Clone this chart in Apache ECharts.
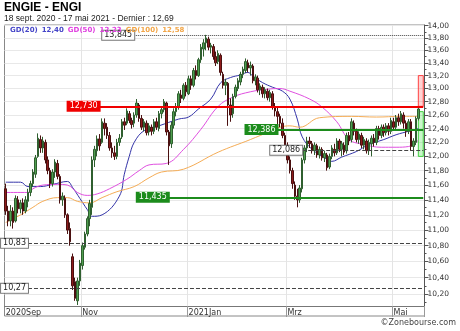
<!DOCTYPE html>
<html>
<head>
<meta charset="utf-8">
<script src="https://cdn.jsdelivr.net/npm/echarts@6/dist/echarts.min.js"></script>
<style>
  html, body { margin: 0; padding: 0; background: #fff; }
  #first { width: 460px; height: 331px; }
</style>
</head>
<body>
<div id="first"></div>
<script>
// daily candles, [open, close, low, high], 18 Sep 2020 .. 17 May 2021
var candles = [
  [11.55, 11.25, 11.20, 11.62], [11.25, 11.12, 11.05, 11.32], [11.12, 11.25, 11.05, 11.33], [11.25, 11.10, 11.02, 11.30],
  [11.12, 11.42, 11.10, 11.46], [11.40, 11.28, 11.22, 11.45], [11.28, 11.36, 11.22, 11.40], [11.36, 11.25, 11.20, 11.42],
  [11.25, 11.40, 11.22, 11.45], [11.38, 11.50, 11.30, 11.55], [11.50, 11.62, 11.45, 11.66], [11.62, 11.78, 11.58, 11.82],
  [11.75, 11.98, 11.70, 12.02], [12.00, 12.26, 11.98, 12.33], [12.24, 12.12, 12.05, 12.30], [12.12, 12.22, 12.05, 12.28],
  [12.20, 11.95, 11.90, 12.24], [11.95, 11.80, 11.75, 12.00], [11.80, 11.62, 11.56, 11.84], [11.62, 11.78, 11.58, 11.82],
  [11.78, 11.92, 11.70, 11.96], [11.90, 11.72, 11.68, 11.95], [11.72, 11.40, 11.35, 11.75], [11.40, 11.45, 11.32, 11.50],
  [11.42, 11.20, 11.16, 11.46], [11.20, 11.00, 10.95, 11.22], [11.02, 10.85, 10.80, 11.10], [10.66, 10.30, 10.25, 10.70],
  [10.35, 10.15, 10.12, 10.40], [10.12, 10.36, 10.07, 10.40], [10.36, 10.58, 10.30, 10.62], [10.55, 10.80, 10.50, 10.84],
  [10.78, 10.95, 10.75, 10.98], [10.95, 11.15, 10.92, 11.18], [11.15, 11.35, 11.05, 11.40], [11.30, 11.95, 11.20, 12.00],
  [11.95, 12.10, 11.85, 12.15], [12.08, 12.25, 12.00, 12.30], [12.25, 12.15, 12.08, 12.32], [12.20, 12.50, 12.18, 12.55],
  [12.48, 12.40, 12.30, 12.55], [12.42, 12.30, 12.25, 12.48], [12.30, 12.12, 12.08, 12.35], [12.12, 12.05, 11.98, 12.20],
  [12.05, 12.00, 11.95, 12.15], [12.00, 12.20, 11.96, 12.25], [12.20, 12.26, 12.15, 12.32], [12.28, 12.50, 12.25, 12.54],
  [12.50, 12.45, 12.38, 12.56], [12.48, 12.66, 12.45, 12.70], [12.62, 12.52, 12.48, 12.66], [12.52, 12.46, 12.40, 12.56],
  [12.48, 12.60, 12.42, 12.64], [12.60, 12.78, 12.56, 12.84], [12.75, 12.55, 12.50, 12.78], [12.55, 12.42, 12.38, 12.60],
  [12.42, 12.50, 12.36, 12.54], [12.48, 12.34, 12.30, 12.52], [12.35, 12.44, 12.30, 12.48], [12.42, 12.36, 12.30, 12.46],
  [12.36, 12.50, 12.32, 12.54], [12.50, 12.42, 12.38, 12.56], [12.40, 12.62, 12.36, 12.66], [12.62, 12.68, 12.55, 12.72],
  [12.68, 12.80, 12.64, 12.84], [12.78, 12.35, 12.30, 12.80], [12.35, 12.15, 11.88, 12.38], [12.18, 12.45, 12.12, 12.50],
  [12.45, 12.65, 12.40, 12.70], [12.65, 12.72, 12.58, 12.78], [12.72, 12.92, 12.68, 12.96], [12.90, 12.85, 12.78, 12.98],
  [12.85, 13.05, 12.82, 13.08], [13.05, 12.95, 12.88, 13.10], [12.92, 13.15, 12.90, 13.20], [13.15, 13.05, 12.98, 13.20],
  [13.05, 13.28, 13.02, 13.32], [13.28, 13.20, 13.14, 13.36], [13.20, 13.45, 13.18, 13.48], [13.45, 13.65, 13.40, 13.70],
  [13.62, 13.72, 13.50, 13.78], [13.72, 13.80, 13.60, 13.85], [13.78, 13.65, 13.60, 13.82], [13.65, 13.68, 13.55, 13.72],
  [13.66, 13.50, 13.45, 13.70], [13.50, 13.40, 13.35, 13.58], [13.42, 13.55, 13.38, 13.60], [13.52, 13.25, 13.20, 13.55],
  [13.22, 13.05, 13.00, 13.26], [13.05, 13.10, 12.90, 13.15], [13.08, 12.75, 12.44, 13.10], [12.75, 12.60, 12.50, 12.85],
  [12.62, 12.88, 12.56, 12.92], [12.88, 13.02, 12.85, 13.06], [13.00, 13.12, 12.96, 13.16], [13.10, 13.22, 13.05, 13.26],
  [13.22, 13.30, 13.16, 13.34], [13.28, 13.42, 13.24, 13.47], [13.40, 13.32, 13.25, 13.45], [13.32, 13.36, 13.20, 13.42],
  [13.35, 13.12, 13.08, 13.38], [13.12, 13.18, 13.05, 13.22], [13.16, 12.98, 12.94, 13.20], [12.98, 13.04, 12.90, 13.08],
  [13.02, 12.92, 12.86, 13.06], [12.92, 12.98, 12.85, 13.02], [12.96, 12.86, 12.82, 13.00], [12.86, 12.94, 12.80, 12.98],
  [12.92, 12.72, 12.68, 12.96], [12.72, 12.66, 12.58, 12.78], [12.65, 12.58, 12.40, 12.72], [12.58, 12.48, 12.42, 12.62],
  [12.48, 12.30, 12.26, 12.55], [12.30, 12.16, 12.10, 12.34], [12.16, 11.95, 11.90, 12.20], [11.95, 11.80, 11.76, 12.00],
  [11.80, 11.62, 11.55, 11.84], [11.60, 11.45, 11.40, 11.65], [11.45, 11.40, 11.30, 11.55], [11.40, 11.56, 11.36, 11.60],
  [11.55, 11.95, 11.50, 11.98], [11.95, 12.12, 11.90, 12.16], [12.12, 12.22, 12.06, 12.28], [12.22, 12.18, 12.12, 12.28],
  [12.18, 12.08, 12.04, 12.22], [12.08, 12.16, 12.02, 12.20], [12.15, 12.02, 11.98, 12.18], [12.02, 12.10, 11.97, 12.14],
  [12.10, 11.98, 11.94, 12.13], [11.98, 12.04, 11.92, 12.08], [12.02, 11.84, 11.80, 12.05], [11.85, 12.00, 11.82, 12.04],
  [12.00, 12.12, 11.96, 12.16], [12.10, 12.05, 12.00, 12.18], [12.05, 12.22, 12.02, 12.26], [12.22, 12.10, 12.06, 12.25],
  [12.10, 12.18, 12.00, 12.22], [12.16, 12.06, 12.02, 12.20], [12.08, 12.30, 12.04, 12.34], [12.30, 12.22, 12.16, 12.35],
  [12.24, 12.50, 12.20, 12.55], [12.48, 12.36, 12.30, 12.52], [12.36, 12.24, 12.20, 12.40], [12.24, 12.32, 12.18, 12.36],
  [12.30, 12.16, 12.12, 12.34], [12.16, 12.24, 12.10, 12.28], [12.22, 12.08, 12.04, 12.26], [12.08, 12.20, 12.02, 12.24],
  [12.18, 12.26, 12.00, 12.30], [12.26, 12.20, 12.14, 12.32], [12.20, 12.40, 12.16, 12.44], [12.40, 12.30, 12.24, 12.44],
  [12.30, 12.42, 12.26, 12.46], [12.42, 12.34, 12.28, 12.46], [12.34, 12.44, 12.30, 12.48], [12.44, 12.36, 12.30, 12.48],
  [12.36, 12.52, 12.32, 12.56], [12.50, 12.42, 12.38, 12.56], [12.42, 12.56, 12.38, 12.60], [12.56, 12.50, 12.44, 12.62],
  [12.50, 12.62, 12.46, 12.66], [12.60, 12.48, 12.40, 12.64], [12.48, 12.36, 12.28, 12.52], [12.36, 12.50, 12.32, 12.54],
  [12.50, 12.14, 12.08, 12.54], [12.14, 12.22, 12.00, 12.26], [12.20, 12.55, 12.16, 12.58], [12.55, 12.69, 12.52, 12.72]
];

// moving averages, [day index, value]
var ma20 = [[0, 11.64], [6, 11.64], [9, 11.58], [14, 11.58], [19, 11.61], [25, 11.65], [27, 11.57], [30, 11.42],
  [33, 11.27], [35, 11.18], [39, 11.20], [46, 11.45], [48, 11.75], [50, 12.00], [52, 12.20], [56, 12.37], [62, 12.44],
  [70, 12.54], [74, 12.57], [78, 12.69], [83, 12.84], [87, 13.09], [91, 13.17], [95, 13.21], [98, 13.25], [100, 13.19],
  [104, 13.09], [108, 13.02], [112, 12.96], [115, 12.84], [118, 12.54], [120, 12.28], [124, 12.10], [130, 11.96],
  [132, 11.93], [136, 11.99], [142, 12.07], [147, 12.17], [153, 12.24], [158, 12.31], [163, 12.36], [167, 12.40]];
var ma50 = [[0, 11.50], [9, 11.50], [11, 11.55], [15, 11.60], [21, 11.61], [25, 11.60], [29, 11.50], [33, 11.46],
  [37, 11.48], [42, 11.55], [49, 11.68], [54, 11.80], [58, 11.88], [65, 11.90], [72, 12.10], [79, 12.39], [86, 12.73],
  [92, 12.87], [99, 12.95], [106, 12.99], [111, 13.00], [115, 12.96], [123, 12.84], [128, 12.72], [134, 12.50],
  [139, 12.24], [145, 12.17], [152, 12.13], [158, 12.13], [163, 12.14], [167, 12.23]];
var ma100 = [[0, 11.10], [6, 11.20], [11, 11.30], [15, 11.38], [21, 11.43], [25, 11.43], [29, 11.38], [34, 11.36],
  [39, 11.43], [45, 11.51], [52, 11.58], [58, 11.70], [63, 11.78], [72, 11.82], [86, 12.06], [99, 12.24], [107, 12.36],
  [111, 12.42], [115, 12.44], [119, 12.42], [127, 12.56], [140, 12.58], [150, 12.57], [160, 12.58], [167, 12.58]];

// horizontal levels
var levels = [13.845, 12.730, 12.386, 12.086, 11.435, 10.83, 10.27];
var levelDecimals = [3, 3, 3, 3, 3, 2, 2];
var zoneHigh = [13.20, 12.73];
var zoneLow = [12.65, 12.00];

var yTicks = [10.2, 10.4, 10.6, 10.8, 11.0, 11.2, 11.4, 11.6, 11.8, 12.0, 12.2, 12.4, 12.6, 12.8, 13.0, 13.2, 13.4, 13.6, 13.8, 14.0];
var yMinor = [10.1, 10.3, 10.5, 10.7, 10.9, 11.1, 11.3, 11.5, 11.7, 11.9, 12.1, 12.3, 12.5, 12.7, 12.9, 13.1, 13.3, 13.5, 13.7, 13.9];
var monthNames = {10: 'Nov', 0: 'Jan', 2: 'Mrz', 4: 'Mai'};

// trading days (Euronext shut on weekends and these days)
var holidays = ['2020-12-25', '2021-01-01', '2021-04-02', '2021-04-05'];
var dates = [];
var day = new Date(Date.UTC(2020, 8, 18));
while (dates.length < candles.length) {
    var s = day.toISOString().slice(0, 10);
    var wd = day.getUTCDay();
    if (wd != 0 && wd != 6 && holidays.indexOf(s) < 0) dates.push(s);
    day.setUTCDate(day.getUTCDate() + 1);
}
var cats = dates.concat(['', '']);

var labelAt = {0: '2020Sep'};
for (var i = 1; i < dates.length; i++) {
    var m = +dates[i].slice(5, 7) - 1;
    if (m != +dates[i - 1].slice(5, 7) - 1 && monthNames[m] != null) {
        labelAt[i] = (m == 0 ? dates[i].slice(0, 4) : '') + monthNames[m];
    }
}
function isLabel(i) { return labelAt[i] != null; }
function isGrid(i) { return i > 0 && labelAt[i] != null; }

var LN = Math.log;
function fmt(v, n) { return v.toFixed(n).replace('.', ','); }

var lastIdx = cats.length - 1;
var levelStyle = [
    {start: 52, line: {color: '#444', type: 'dotted', width: 1}, bg: '#fff', fg: '#222', border: '#777'},
    {start: 38, line: {color: '#f00000', type: 'solid', width: 2}, bg: '#f00000', fg: '#fff', border: '#f00000'},
    {start: 110, line: {color: '#1c8c1c', type: 'solid', width: 2}, bg: '#1c8c1c', fg: '#fff', border: '#1c8c1c'},
    {start: 120, line: {color: '#444', type: 'dashed', width: 1}, bg: '#fff', fg: '#222', border: '#777'},
    {start: 66, line: {color: '#1c8c1c', type: 'solid', width: 2}, bg: '#1c8c1c', fg: '#fff', border: '#1c8c1c'},
    {start: 9, line: {color: '#444', type: 'dashed', width: 1}, bg: '#fff', fg: '#222', border: '#777'},
    {start: 9, line: {color: '#444', type: 'dashed', width: 1}, bg: '#fff', fg: '#222', border: '#777'}
];
var markLines = levels.map(function (v, k) {
    var st = levelStyle[k];
    return [{
        coord: [st.start, LN(v)],
        lineStyle: st.line,
        label: {
            show: true, position: 'start', distance: 0,
            formatter: fmt(v, levelDecimals[k]),
            color: st.fg, backgroundColor: st.bg, borderColor: st.border, borderWidth: 1,
            padding: [1, 2, 0, 2], fontSize: 8, fontFamily: 'DejaVu Sans'
        }
    }, {coord: [lastIdx, LN(v)]}];
});

function maSeries(name, data, color) {
    return {
        name: name, type: 'line', smooth: 0.4, showSymbol: false, silent: true,
        data: data.map(function (p) { return [p[0], LN(p[1])]; }),
        lineStyle: {color: color, width: 1}, z: 3
    };
}

var yMin = LN(10.058), yMax = LN(14.012);
var gdFont = {fontSize: 7, fontFamily: 'DejaVu Sans'};

var myChart = echarts.init(document.getElementById('first'));
var option = {
    animation: false,
    backgroundColor: '#fff',
    textStyle: {fontFamily: 'DejaVu Sans'},
    title: [{
        text: 'ENGIE - ENGI', left: 4, top: 2, padding: 0,
        textStyle: {fontFamily: 'Liberation Sans', fontWeight: 'bold', fontSize: 12, color: '#000'}
    }, {
        text: '18 sept. 2020 - 17 mai 2021 - Dernier : ' + fmt(candles[candles.length - 1][1], 2), left: 4, top: 14, padding: 0,
        textStyle: {fontFamily: 'Liberation Sans', fontWeight: 'normal', fontSize: 8.5, color: '#222'}
    }, {
        text: '{b|GD(20)}{g|}{b|' + fmt(ma20[ma20.length - 1][1], 2) + '}{g|}{m|GD(50)}{g|}{m|' + fmt(ma50[ma50.length - 1][1], 2) +
            '}{g|}{o|GD(100)}{g|}{o|' + fmt(ma100[ma100.length - 1][1], 2) + '}',
        left: 10, top: 26.5, padding: 0,
        textStyle: {
            fontSize: 7,
            rich: {
                b: echarts.util.extend({color: '#4646c8'}, gdFont),
                m: echarts.util.extend({color: '#e040e0'}, gdFont),
                o: echarts.util.extend({color: '#f2a648'}, gdFont),
                g: {width: 4}
            }
        }
    }, {
        text: '\u00a9Zonebourse.com', right: 4, top: 319, padding: 0,
        textStyle: {fontFamily: 'DejaVu Sans', fontWeight: 'normal', fontSize: 8, color: '#444'}
    }],
    grid: {left: 4.5, right: 35.5, top: 25, bottom: 25},
    xAxis: {
        type: 'category', data: cats, boundaryGap: true,
        axisLine: {show: true, lineStyle: {color: '#777'}},
        axisTick: {show: true, interval: function (i) { return isGrid(i); }, length: 11, lineStyle: {color: '#999'}},
        axisLabel: {
            interval: function (i) { return isLabel(i); },
            formatter: function (v, i) { return labelAt[i] || ''; },
            align: 'left', fontSize: 8, color: '#333', margin: 3, fontFamily: 'DejaVu Sans'
        },
        splitLine: {show: true, interval: function (i) { return isGrid(i); }, lineStyle: {color: '#e4e4e4'}}
    },
    yAxis: [{
        type: 'value', position: 'right', min: yMin, max: yMax,
        axisLine: {show: true, lineStyle: {color: '#555'}},
        axisTick: {show: true, customValues: yTicks.map(LN), length: 4, lineStyle: {color: '#555'}},
        axisLabel: {
            customValues: yTicks.map(LN), margin: 3, fontSize: 7.5, color: '#333', fontFamily: 'DejaVu Sans',
            formatter: function (v) { return fmt(Math.exp(v), 2); }
        },
        splitLine: {show: true, lineStyle: {color: '#e8e8e8'}}
    }, {
        type: 'value', position: 'right', min: yMin, max: yMax,
        axisLine: {show: false},
        axisTick: {show: true, customValues: yMinor.map(LN), length: 2, lineStyle: {color: '#555'}},
        axisLabel: {show: false},
        splitLine: {show: false}
    }],
    graphic: [{
        type: 'rect', shape: {x: 4.5, y: 25, width: 420, height: 291}, silent: true, z: -1,
        style: {fill: 'none', stroke: '#888', lineWidth: 1}
    }],
    series: [{
        name: 'ENGI', type: 'candlestick', barWidth: 2,
        data: candles.map(function (c) { return c.map(LN); }),
        itemStyle: {color: '#4f9f4f', color0: '#8e1b1b', borderColor: '#2f5f2f', borderColor0: '#4a1010', borderWidth: 1},
        z: 4,
        markLine: {symbol: ['none', 'none'], silent: true, animation: false, data: markLines},
        markArea: {
            silent: true,
            data: [
                [{coord: [candles.length - 1, LN(zoneHigh[0])], itemStyle: {color: 'rgba(255,80,80,0.25)', borderColor: '#ff4040', borderWidth: 1}},
                 {coord: [lastIdx, LN(zoneHigh[1])]}],
                [{coord: [candles.length - 1, LN(zoneLow[0])], itemStyle: {color: 'rgba(80,230,80,0.3)', borderColor: '#40d040', borderWidth: 1}},
                 {coord: [lastIdx, LN(zoneLow[1])]}]
            ]
        }
    },
        maSeries('GD(20)', ma20, '#3434a8'),
        maSeries('GD(50)', ma50, '#e050e0'),
        maSeries('GD(100)', ma100, '#f5ac55')
    ]
};
myChart.setOption(option);
</script>
</body>
</html>
